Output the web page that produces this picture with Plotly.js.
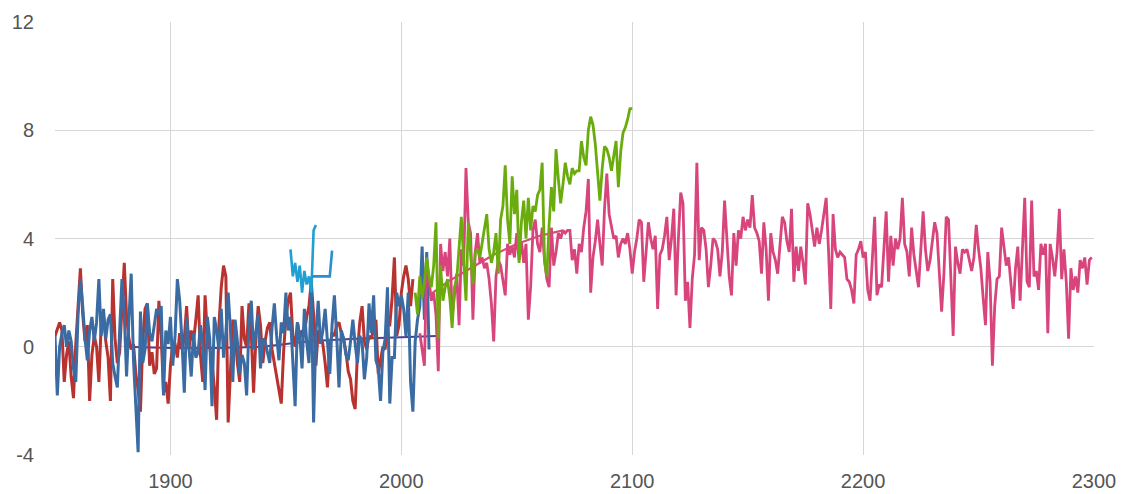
<!DOCTYPE html>
<html>
<head>
<meta charset="utf-8">
<script src="https://cdn.plot.ly/plotly-3.0.1.min.js"></script>
<style>html,body{margin:0;padding:0;background:#fff;}#chart{width:1125px;height:494px;}</style>
</head>
<body>
<div id="chart"></div>
<script>
// ---- data (annual values) ----
const blueStart = 1850;
const blueVals = [
0.4,-1.8,0.0,0.5,0.8,0.0,0.6,0.2,-0.8,-1.3,
1.2,2.5,1.5,0.3,-0.5,0.6,1.1,0.2,0.9,2.5,
0.4,1.4,0.3,1.0,1.2,-0.6,-1.1,-1.5,0.6,2.5,
1.2,-1.1,1.0,2.7,-0.5,-2.0,-3.9,1.3,-0.6,-0.1,
1.6,0.5,0.2,0.8,1.4,1.2,1.5,-1.8,0.6,0.1,
1.1,-0.7,0.4,2.5,1.7,0.2,-1.7,1.1,0.0,-1.1,
0.5,-0.4,-0.2,0.8,0.1,-1.6,1.1,0.3,-2.2,1.1,
0.6,-0.1,1.4,-0.4,0.5,2.0,0.6,-1.3,1.0,0.2,
-1.0,-0.3,-0.6,-1.8,0.8,1.7,-0.1,0.5,1.2,-0.8,
0.3,0.2,-0.2,-0.6,0.7,1.6,0.4,-0.5,0.9,0.5,
2.0,0.6,1.1,-0.4,-2.2,0.9,0.4,-0.8,1.4,0.2,
-0.6,2.2,-2.8,0.5,1.7,0.1,0.6,1.4,0.0,-1.0,
0.8,1.9,0.4,-1.5,0.6,0.3,-0.3,-0.5,0.2,1.0,
0.1,-0.6,0.4,0.2,-1.2,-0.4,1.6,0.5,1.9,-0.5,
-0.8,-2.0,-0.2,0.3,2.2,-2.1,-0.4,-0.4,2.0,1.5,
1.9,1.4,0.4,2.0,-1.3,-2.4,0.2,1.0,1.5,3.7,
1.0,3.5,-0.1];

const redStart = 1850;
const redVals = [
0.4,0.7,0.9,0.6,-1.3,-0.3,0.2,-1.1,-1.9,0.1,
1.5,2.9,1.2,0.2,0.8,-2.0,-0.3,0.4,0.0,-1.3,
0.8,1.1,0.2,-0.4,-2.0,2.5,0.3,-0.6,-0.2,1.5,
3.1,1.1,0.3,-0.1,0.1,-1.0,-1.6,-2.4,0.2,1.4,
1.6,-0.7,-0.2,-1.0,-0.8,1.7,0.4,-1.7,-1.3,-2.1,
-0.7,0.1,0.1,-0.4,0.5,-0.1,0.3,1.5,-0.1,0.6,
0.2,1.0,1.9,-0.3,-1.3,1.9,0.4,0.0,-0.6,-1.5,
-2.7,0.8,2.2,3.0,2.6,-2.8,-1.0,1.0,0.5,-0.6,
-1.3,1.5,0.3,0.0,1.6,0.5,-1.7,0.3,1.5,0.8,
-0.6,0.2,0.7,0.9,-0.1,-0.6,-1.0,-1.5,-2.1,-0.2,
1.1,1.7,2.0,0.4,0.0,0.9,0.3,0.6,0.5,1.1,
1.5,2.4,1.2,-0.7,0.6,0.5,0.1,-0.6,-1.5,0.0,
0.5,0.4,0.8,0.9,0.5,0.3,-0.2,-0.9,-1.2,-2.0,
-2.3,-0.2,0.9,1.5,0.2,-0.1,0.4,0.3,0.6,1.0,
-1.0,-0.5,0.0,-0.1,0.8,0.8,1.8,3.3,0.4,0.8,
2.0,2.6,3.0,2.5,1.5,2.5];

const cyanAStart = 1952;
const cyanAVals = [3.6,2.6,3.1,2.4,3.0,2.0,2.8,2.3,2.6,2.0,4.3,4.5];
const cyanBStart = 1961;
const cyanBVals = [2.6,2.6,2.6,2.6,2.6,2.6,2.6,2.6,2.6,3.55];

const meanYears = [1880,1900,1920,1940,1960,1980,2000,2015];
const meanVals  = [0.0,-0.05,-0.05,0.0,0.2,0.3,0.35,0.4];

const trendYears = [2012,2020,2030,2040,2050,2060,2070];
const trendVals  = [1.9,2.4,2.9,3.4,3.8,4.1,4.3];

const greenStart = 2006;
const greenVals = [
2.0,1.2,2.6,1.8,2.4,3.3,2.6,2.2,3.0,4.6,
0.3,3.0,1.7,2.2,2.5,1.8,0.7,2.2,2.5,3.6,
4.8,3.2,1.7,4.6,3.4,2.3,3.5,3.6,3.3,3.8,
4.3,4.9,3.6,3.1,3.5,4.2,2.7,4.7,5.2,6.7,
4.7,3.8,6.3,4.9,5.8,3.1,4.6,5.4,4.0,5.5,
4.3,5.2,5.0,5.6,5.8,6.8,3.2,2.6,4.5,5.9,
5.0,7.3,6.2,5.3,6.0,6.8,6.3,6.0,6.6,6.4,
6.5,6.5,7.6,7.0,6.7,8.0,8.5,8.2,7.5,6.5,
5.4,6.6,7.4,7.3,7.0,6.5,7.0,7.6,5.9,7.2,
7.9,8.1,8.4,8.8,8.8];

const pinkStart = 2008;
const pinkVals = [
0.5,-0.2,-0.7,3.2,2.4,1.7,2.0,1.2,-0.9,3.8,
2.8,3.5,2.6,4.0,1.1,2.0,2.7,0.8,3.6,3.0,
6.6,4.6,4.2,1.0,3.5,4.2,3.1,3.3,2.9,3.1,
2.5,1.6,0.2,2.6,3.2,3.0,2.4,1.9,3.8,3.4,
3.7,3.3,4.2,3.2,3.9,3.1,3.8,1.0,2.2,4.3,
4.7,3.8,3.5,4.4,3.2,2.5,2.2,4.4,3.0,3.5,
4.2,4.0,4.3,4.2,4.3,4.3,3.2,3.6,2.7,3.8,
3.5,4.4,5.0,6.2,2.0,3.3,3.9,4.7,3.8,3.0,
5.1,6.4,4.9,4.4,4.0,4.1,3.3,3.8,4.0,3.8,
4.2,3.6,2.7,3.5,4.0,4.7,4.6,2.4,3.4,4.6,
4.0,3.6,4.1,1.4,3.4,3.6,4.1,4.8,3.2,4.0,
5.1,1.9,4.0,5.7,5.3,1.7,2.4,0.7,2.5,3.4,
6.8,3.2,4.4,4.3,3.6,2.2,3.0,4.0,3.9,3.6,
2.6,3.5,5.4,3.8,2.6,1.9,4.2,3.0,4.3,4.0,
4.8,4.3,4.7,4.4,5.6,4.4,4.2,3.9,2.7,4.6,
3.6,1.7,4.2,3.5,3.2,2.7,3.8,4.8,4.6,3.9,
3.5,5.1,2.4,3.7,2.8,3.7,3.1,2.3,5.3,4.9,
4.3,3.7,4.4,3.8,4.3,4.9,5.5,3.6,1.4,4.9,
3.6,3.3,3.5,3.4,3.3,2.5,2.4,2.1,1.6,3.4,
3.6,3.9,3.3,3.5,2.1,1.7,3.2,4.8,1.9,2.3,
2.2,3.6,5.0,2.4,4.1,3.0,4.0,3.6,4.0,5.5,
3.8,3.5,2.6,4.4,3.4,2.8,2.2,3.6,5.0,3.6,
2.8,3.2,3.9,4.6,4.2,2.9,1.3,2.7,4.8,4.7,
2.5,0.4,3.7,3.1,2.7,3.6,3.5,3.6,3.2,2.8,
3.3,4.5,3.6,2.9,1.8,0.8,3.5,2.4,-0.7,1.5,
2.5,2.6,4.4,3.6,3.0,3.3,2.4,1.4,2.9,3.7,
1.7,3.8,5.5,2.4,2.2,5.4,2.6,2.8,2.1,3.8,
3.4,3.8,0.5,3.8,3.3,2.6,3.5,5.1,2.5,3.6,
2.4,0.3,2.9,2.1,2.6,2.0,3.2,2.9,3.3,2.3,
3.2,3.3];

const xTicks = [1900, 2000, 2100, 2200, 2300];
const yTicks = [-4, 0, 4, 8, 12];

function years(start, vals) { return vals.map((_, i) => start + i); }

function line(x, y, color, width) {
  return { x: x, y: y, type: 'scatter', mode: 'lines',
           line: { color: color, width: width }, hoverinfo: 'x+y', showlegend: false };
}

const traces = [
  line(meanYears, meanVals, '#4b3f9c', 2),
  line(years(redStart, redVals), redVals, '#b8322f', 3),
  line(years(blueStart, blueVals), blueVals, '#3a6ca3', 3),
  line(years(cyanAStart, cyanAVals), cyanAVals, '#1f9fd2', 2.6),
  line(years(cyanBStart, cyanBVals), cyanBVals, '#2a8fcf', 2.6),
  line(trendYears, trendVals, '#d8506e', 2.2),
  line(years(pinkStart, pinkVals), pinkVals, '#d8457c', 2.8),
  line(years(greenStart, greenVals), greenVals, '#6aac0d', 2.8)
];

const axisFont = { family: '"Liberation Sans", Arial, sans-serif', size: 20, color: '#555555' };

const layout = {
  width: 1125, height: 494,
  margin: { l: 55, r: 31, t: 22, b: 39 },
  paper_bgcolor: '#ffffff', plot_bgcolor: '#ffffff',
  showlegend: false,
  xaxis: {
    range: [1850, 2300], tickvals: xTicks, ticktext: xTicks.map(String),
    showgrid: true, gridcolor: '#d6d6d6', gridwidth: 1,
    zeroline: false, showline: false, ticks: '',
    tickfont: axisFont, ticklabelstandoff: 12
  },
  yaxis: {
    range: [-4, 12], tickvals: yTicks, ticktext: yTicks.map(String),
    showgrid: true, gridcolor: '#d6d6d6', gridwidth: 1,
    zeroline: false, showline: false, ticks: '',
    tickfont: axisFont, ticklabelstandoff: 20
  }
};

Plotly.newPlot('chart', traces, layout, { displayModeBar: false, staticPlot: true });
</script>
</body>
</html>
